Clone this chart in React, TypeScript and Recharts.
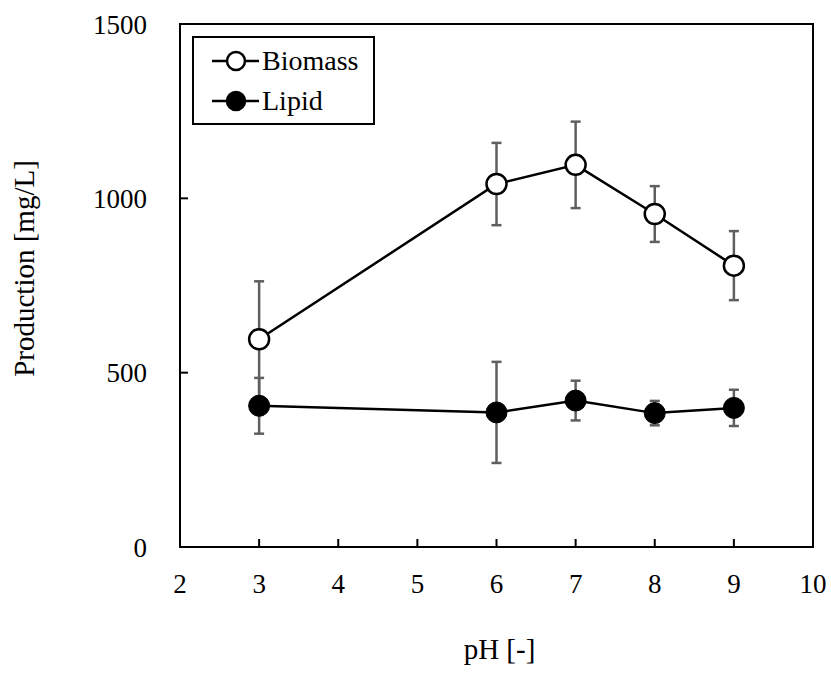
import { LineChart, Line, XAxis, YAxis, ErrorBar, ReferenceArea } from 'recharts';

// pH of the culture medium and measured production (mg/L) with std. deviation
const ph = [3, 6, 7, 8, 9];
const biomass = [596, 1041, 1096, 955, 807];
const biomassErr = [166, 118, 124, 80, 99];
const lipid = [405, 386, 420, 384, 399];
const lipidErr = [80, 145, 57, 35, 52];

const xTicks = [2, 3, 4, 5, 6, 7, 8, 9, 10];
const yTicks = [0, 500, 1000, 1500];

const data = ph.map((p, i) => ({
  ph: p,
  biomass: biomass[i],
  biomassErr: biomassErr[i],
  lipid: lipid[i],
  lipidErr: lipidErr[i],
}));

const FONT = '"Liberation Serif", "Times New Roman", serif';
const axisStroke = { stroke: '#000', strokeWidth: 2 };

function LegendBox() {
  const rows = [
    { label: 'Biomass', fill: '#fff' },
    { label: 'Lipid', fill: '#000' },
  ];
  return (
    <svg width={183} height={89} style={{ display: 'block' }}>
      <rect x={1} y={1} width={181} height={87} fill="#fff" stroke="#000" strokeWidth={2} />
      {rows.map((r, i) => {
        const cy = 25 + i * 40;
        return (
          <g key={r.label}>
            <line x1={20} x2={67} y1={cy} y2={cy} stroke="#000" strokeWidth={2.5} />
            <circle cx={44} cy={cy} r={9} fill={r.fill} stroke="#000" strokeWidth={2.5} />
            <text x={70} y={cy + 9} fontSize={28} fontFamily={FONT} fill="#000">
              {r.label}
            </text>
          </g>
        );
      })}
    </svg>
  );
}

function YTitle({ viewBox }: { viewBox?: { x: number; y: number; width: number; height: number } }) {
  if (!viewBox) return null;
  const x = viewBox.x + 34;
  const y = viewBox.y + viewBox.height / 2 - 17;
  return (
    <text
      x={x}
      y={y}
      transform={`rotate(-90, ${x}, ${y})`}
      textAnchor="middle"
      fontSize={29}
      fontFamily={FONT}
      fill="#000"
    >
      Production [mg/L]
    </text>
  );
}

function XTitle({ viewBox }: { viewBox?: { x: number; y: number; width: number; height: number } }) {
  if (!viewBox) return null;
  return (
    <text
      x={viewBox.x + viewBox.width / 2 + 3}
      y={viewBox.y + 112}
      textAnchor="middle"
      fontSize={29}
      fontFamily={FONT}
      fill="#000"
    >
      pH [-]
    </text>
  );
}

export default function App() {
  return (
    <div style={{ position: 'absolute', left: 0, top: 0, width: 831, height: 673, background: '#fff' }}>
      <LineChart width={831} height={673} data={data} margin={{ top: 24, right: 18, bottom: 0, left: 0 }}>
        <XAxis
          dataKey="ph"
          type="number"
          domain={[2, 10]}
          ticks={xTicks}
          interval={0}
          height={126}
          axisLine={axisStroke}
          tickLine={axisStroke}
          tickSize={-8}
          tickMargin={35}
          tick={{ fill: '#000', fontSize: 27, fontFamily: FONT }}
          label={<XTitle />}
        />
        <YAxis
          type="number"
          domain={[0, 1500]}
          ticks={yTicks}
          interval={0}
          width={180}
          axisLine={axisStroke}
          tickLine={axisStroke}
          tickSize={-8}
          tickMargin={41}
          tick={{ fill: '#000', fontSize: 27, fontFamily: FONT }}
          label={<YTitle />}
        />
        {/* closed box around the plot area */}
        <ReferenceArea x1={2} x2={10} y1={0} y2={1500} fill="none" stroke="#000" strokeWidth={2} />
        <Line
          dataKey="biomass"
          name="Biomass"
          stroke="#000"
          strokeWidth={2.5}
          dot={{ r: 10, fill: '#fff', stroke: '#000', strokeWidth: 2.5 }}
          isAnimationActive={false}
        >
          <ErrorBar dataKey="biomassErr" width={5} stroke="#5f5f5f" strokeWidth={2.5} direction="y" />
        </Line>
        <Line
          dataKey="lipid"
          name="Lipid"
          stroke="#000"
          strokeWidth={2.5}
          dot={{ r: 10.5, fill: '#000', stroke: '#000', strokeWidth: 1 }}
          isAnimationActive={false}
        >
          <ErrorBar dataKey="lipidErr" width={5} stroke="#5f5f5f" strokeWidth={2.5} direction="y" />
        </Line>
      </LineChart>
      <div style={{ position: 'absolute', left: 192, top: 36 }}>
        <LegendBox />
      </div>
    </div>
  );
}
